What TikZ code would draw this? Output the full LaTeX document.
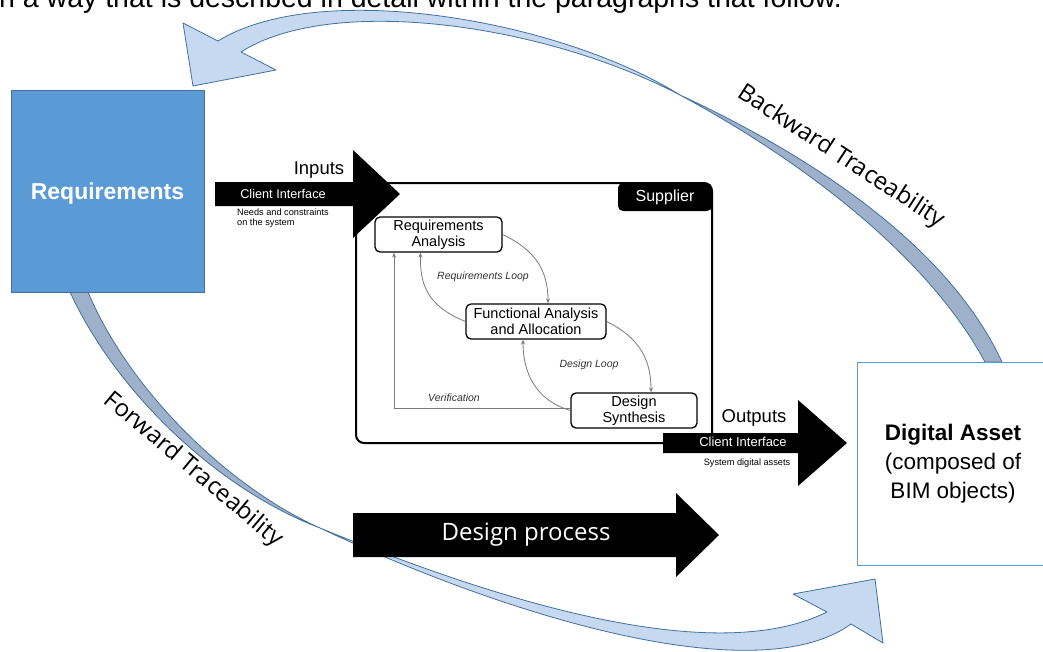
\documentclass[tikz,border=0pt]{standalone}
\usepackage{fontspec}
\setmainfont{Liberation Sans}
\newfontfamily\opensans{Open Sans}
\usetikzlibrary{arrows.meta}
\definecolor{reqblue}{HTML}{5B9BD5}
\definecolor{reqborder}{HTML}{41719C}
\definecolor{lightface}{HTML}{C6D9F1}
\definecolor{darkface}{HTML}{9FB1CA}
\definecolor{connc}{HTML}{7A7A7A}
\definecolor{labc}{HTML}{333333}
\tikzset{
  face/.style={draw=reqborder, line width=0.8pt, line join=round},
  blackarrow/.style={fill=black},
  procbox/.style={draw, line width=1.3pt, rounded corners=5pt, fill=white, align=center,
    inner sep=0pt, font=\fontsize{14.5}{15.5}\selectfont},
  conn/.style={draw=connc, line width=0.8pt, -{Stealth[length=5pt,width=4pt]}},
  looplabel/.style={text=labc, font=\fontsize{10.5}{12}\selectfont\itshape, inner sep=0pt},
  whitelabel/.style={text=white, inner sep=0pt},
  trace/.style={font=\opensans\fontsize{24}{28}\selectfont, inner sep=0pt}
}
\begin{document}
\begin{tikzpicture}[x=1pt,y=-1pt]
\useasboundingbox (0,0) rectangle (1043,651);
\clip (0,0) rectangle (1043,651);

% cropped caption line at the top
\node[anchor=base west, inner sep=0pt, font=\fontsize{28.5}{32}\selectfont] (caption) at (-1,7.5) {n a way that is described in detail within the paragraphs that follow.};

% backward traceability arc (top)
\filldraw[face, fill=darkface] (680,95) .. controls (820,160) and (950,250) .. (1002,362)
  -- (985,362) .. controls (930,260) and (810,165) .. (680,95) -- cycle;
\filldraw[face, fill=lightface] (218,41) .. controls (320,-22) and (560,20) .. (680,95)
  .. controls (540,22) and (330,-5) .. (241,52) -- (276,70) -- (193,86) -- (183,23) -- cycle;

% forward traceability arc (bottom)
\filldraw[face, fill=darkface] (70,292) .. controls (115,390) and (215,488) .. (320,528)
  .. controls (230,488) and (130,392) .. (88,292) -- cycle;
\filldraw[face, fill=lightface] (320,528) .. controls (520,610) and (720,665) .. (827,612)
  -- (793,594) -- (875,579) -- (883,643) -- (851,624)
  .. controls (760,690) and (520,622) .. (320,528) -- cycle;

% Requirements box
\node[fill=reqblue, draw=reqborder, line width=1pt, minimum width=193pt, minimum height=202pt,
  inner sep=0pt, text=white, text depth=0pt, font=\bfseries\fontsize{23}{27}\selectfont] (req) at (107.5,191) {Requirements};

% Digital asset box
\node[draw=reqblue, line width=1pt, fill=white, minimum width=192pt, minimum height=203pt,
  inner sep=0pt, align=center, font=\fontsize{22.5}{29}\selectfont] (asset) at (953,463.5)
  {\textbf{Digital Asset}\\(composed of\\BIM objects)};

% Traceability labels
\node[trace, rotate=-33] (backlbl) at (841,157) {Backward Traceability};
\node[trace, rotate=-40] (fwdlbl) at (193,470) {Forward Traceability};

% Supplier frame
\draw[line width=2pt, rounded corners=8pt] (356,183) rectangle (712,443);
\node[fill=black, rounded corners=5pt, minimum width=94pt, minimum height=28pt, inner sep=0pt,
  text=white, font=\fontsize{16}{18}\selectfont] (sup) at (665,197) {Supplier};

% Inputs arrow
\fill[blackarrow] (215,182) -- (353,182) -- (353,150) -- (400,194) -- (353,238) -- (353,206) -- (215,206) -- cycle;
\node[inner sep=0pt, font=\fontsize{18.5}{20}\selectfont] (inlbl) at (319,170) {Inputs};
\node[whitelabel, font=\fontsize{12.7}{14}\selectfont] (inci) at (283,194) {Client Interface};
\node[anchor=north west, inner sep=0pt, align=left, font=\fontsize{9.2}{9.8}\selectfont] (inneeds) at (237,209)
  {Needs and constraints\\on the system};

% Outputs arrow
\fill[blackarrow] (663,433) -- (798,433) -- (798,400) -- (847,443) -- (798,486) -- (798,453) -- (663,453) -- cycle;
\node[inner sep=0pt, font=\fontsize{18.5}{20}\selectfont] (outlbl) at (754,418) {Outputs};
\node[whitelabel, font=\fontsize{13}{14}\selectfont] (outci) at (743,442) {Client Interface};
\node[inner sep=0pt, font=\fontsize{9.2}{10}\selectfont] (outsys) at (747,463) {System digital assets};

% Design process arrow
\fill[blackarrow] (353,513) -- (676,513) -- (676,493) -- (719,535) -- (676,577) -- (676,557) -- (353,557) -- cycle;
\node[whitelabel, font=\opensans\fontsize{24}{28}\selectfont] (dplbl) at (526,535) {Design process};

% inner process boxes
\node[procbox, minimum width=127pt, minimum height=35pt] (ra) at (438.5,234.5) {Requirements\\Analysis};
\node[procbox, minimum width=140pt, minimum height=35pt] (fa) at (536,321.5) {Functional Analysis\\and Allocation};
\node[procbox, minimum width=126pt, minimum height=35pt] (ds) at (634,410.5) {Design\\Synthesis};

% loops
\draw[conn] (ra.east) .. controls (535,250) and (548,270) .. ([xshift=12pt]fa.north);
\draw[conn] (fa.west) .. controls (425,305) and (420,282) .. ([xshift=-18pt]ra.south);
\draw[conn] (fa.east) .. controls (640,338) and (651,360) .. ([xshift=17pt]ds.north);
\draw[conn] (ds.west) .. controls (535,400) and (523,372) .. ([xshift=-13pt]fa.south);
\draw[conn] ([yshift=2.5pt]ds.west) -| ([xshift=-44.5pt]ra.south);

\node[looplabel] (rloop) at (483,277) {Requirements Loop};
\node[looplabel] (dloop) at (589,365) {Design Loop};
\node[looplabel] (verif) at (454,398) {Verification};
\end{tikzpicture}
\end{document}
